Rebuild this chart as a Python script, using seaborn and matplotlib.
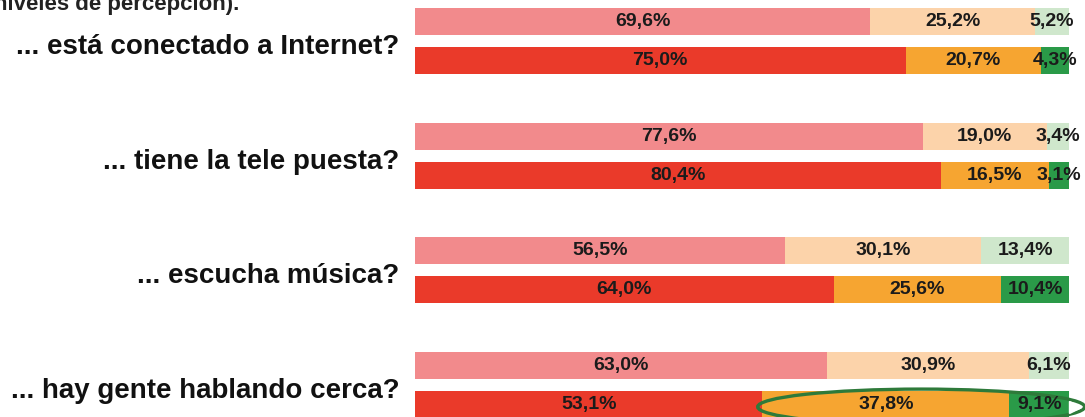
import numpy as np
import matplotlib
matplotlib.use('Agg')
import matplotlib.pyplot as plt
import matplotlib.transforms as mtrans
from matplotlib.patches import Ellipse
import seaborn as sns

# ── Data ────────────────────────────────────────────────────
questions = ['... está conectado a Internet?',
             '... tiene la tele puesta?',
             '... escucha música?',
             '... hay gente hablando cerca?']

# fila superior (tonos claros) y fila inferior (tonos intensos)
light_high = [69.6, 77.6, 56.5, 63.0]
light_mid  = [25.2, 19.0, 30.1, 30.9]
light_low  = [5.2, 3.4, 13.4, 6.1]

dark_high = [75.0, 80.4, 64.0, 53.1]
dark_mid  = [20.7, 16.5, 25.6, 37.8]
dark_low  = [4.3, 3.1, 10.4, 9.1]

light_colors = ['#F28A8C', '#FCD3AA', '#CFE7CC']
dark_colors  = ['#EA3A2A', '#F6A531', '#2A9A48']

# ── Style ───────────────────────────────────────────────────
sns.set_theme(style="white")
plt.rcParams['font.family'] = ['Liberation Sans', 'DejaVu Sans']

W, H = 1085, 417
fig = plt.figure(figsize=(W / 100, H / 100), dpi=100)
ax = fig.add_axes([415 / W, 0, (1069 - 415) / W, 1])

groups = np.arange(len(questions))
off = 0.17
bh = 0.235


def draw_row(ypos, parts, colors):
    left = np.zeros(len(ypos))
    for vals, col in zip(parts, colors):
        vals = np.array(vals)
        ax.barh(ypos, vals, left=left, height=bh, color=col, edgecolor='none')
        for y, l, v in zip(ypos, left, vals):
            ax.text(l + v / 2, y, f"{v:.1f}%".replace('.', ','),
                    ha='center', va='center', fontsize=14,
                    fontweight='bold', color='#1b1b1b')
        left = left + vals


draw_row(groups - off, [light_high, light_mid, light_low], light_colors)
draw_row(groups + off, [dark_high, dark_mid, dark_low], dark_colors)

# elipse que resalta la última fila
l = dark_high[-1] - 0.7
r = 102.4
ax.add_patch(Ellipse(((l + r) / 2, groups[-1] + off + 0.02), r - l, 0.31,
                     fill=False, edgecolor='#2E7A3A', linewidth=2.4,
                     clip_on=False))
ax.plot([100.9], [groups[-1] + off + 0.02], marker='>', markersize=8,
        color='white', clip_on=False)

ax.set_xlim(0, 100)
ax.set_ylim(3 + 32 / 115, -41 / 115)
ax.set_yticks(groups)
ax.set_yticklabels(questions, fontsize=20, fontweight='bold', color='#111111')
ax.tick_params(axis='y', length=0, pad=11)
ax.set_xticks([])
sns.despine(ax=ax, left=True, bottom=True)

# bajar un poco las preguntas
shift = mtrans.ScaledTranslation(0, -3 / 100, fig.dpi_scale_trans)
for lab in ax.get_yticklabels():
    lab.set_transform(lab.get_transform() + shift)

fig.text(-0.0055, 1 - 10 / H, 'niveles de percepción).', ha='left',
         va='baseline', fontsize=16, fontweight='bold', color='#222222')

plt.savefig('out.png', dpi=100)
